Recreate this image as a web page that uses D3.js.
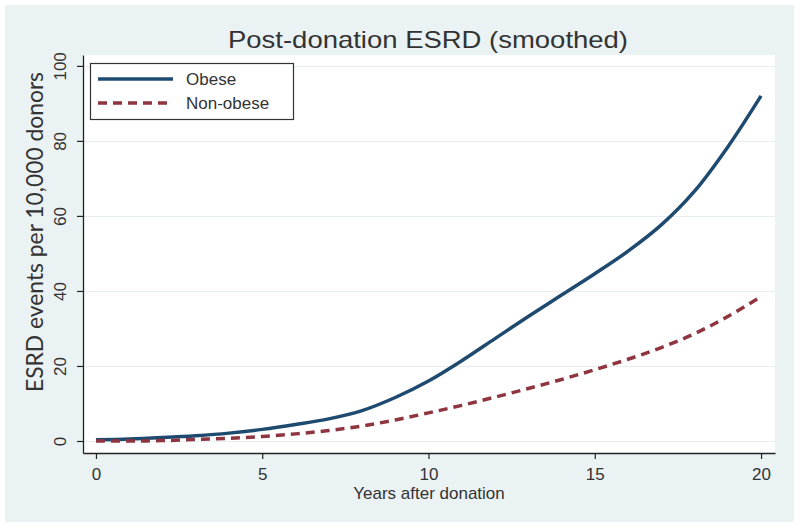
<!DOCTYPE html>
<html><head><meta charset="utf-8">
<script src="https://cdn.jsdelivr.net/npm/d3@7"></script>
<style>body{margin:0;background:#fff}svg{display:block}</style>
</head><body><svg id="c" width="800" height="528"></svg>
<script>
const years = [0,1,2,3,4,5,6,7,8,9,10,11,12,13,14,15,16,17,18,19,20];
const obese = [0.3,0.5,0.9,1.4,2.1,3.1,4.4,5.9,8.1,11.6,16.0,21.4,27.3,33.2,38.9,44.6,50.6,57.6,66.6,78.4,92.0];
const nonObese = [0.0,0.0,0.1,0.4,0.7,1.2,1.9,2.8,4.0,5.6,7.5,9.5,11.7,14.0,16.4,19.0,21.8,24.9,28.6,33.2,38.5];
const seriesNames = ["Obese","Non-obese"];
const seriesColors = ["#1f4a70","#8e3540"];
const xTicks = [0,5,10,15,20];
const yTicks = [0,20,40,60,80,100];
const titleText = "Post-donation ESRD (smoothed)";
const xTitle = "Years after donation";
const yTitle = "ESRD events per 10,000 donors";

const svg = d3.select("#c");
// outer graph region
svg.append("rect").attr("x",5).attr("y",5).attr("width",789).attr("height",517).attr("fill","#eaf2f3");

const x = d3.scaleLinear().domain([-0.39,20.42]).range([83,775]);
const y = d3.scaleLinear().domain([-3.2,102.9]).range([453,55]);

// plot region
svg.append("rect").attr("x",83).attr("y",55).attr("width",692).attr("height",398).attr("fill","#ffffff");

// gridlines
svg.append("g").selectAll("line").data(yTicks).join("line")
  .attr("x1",83).attr("x2",775)
  .attr("y1",d=>Math.round(y(d))+0.5).attr("y2",d=>Math.round(y(d))+0.5)
  .attr("stroke","#e6eef0").attr("stroke-width",1);

// lines
const line = d3.line().x(d=>x(d[0])).y(d=>y(d[1])).curve(d3.curveCatmullRom.alpha(0.5));
const series = [obese, nonObese];
series.forEach((vals,i)=>{
  svg.append("path")
    .datum(years.map((yr,j)=>[yr,vals[j]]))
    .attr("d",line)
    .attr("fill","none")
    .attr("stroke",seriesColors[i])
    .attr("stroke-width",3.5)
    .attr("stroke-dasharray", i===1 ? "9,6" : null);
});

// axes
const xAxis = svg.append("g").attr("transform","translate(0,453)")
  .call(d3.axisBottom(x).tickValues(xTicks).tickSize(6).tickSizeOuter(0));
xAxis.selectAll("text").attr("y",27).attr("dy",0)
  .attr("font-family","Liberation Sans, Arial, sans-serif").attr("font-size",17).attr("fill","#333");
xAxis.select(".domain").attr("stroke","#222").attr("stroke-width",1.3);
xAxis.selectAll(".tick line").attr("stroke","#222").attr("stroke-width",1.2);

const yAxis = svg.append("g").attr("transform","translate(83,0)")
  .call(d3.axisLeft(y).tickValues(yTicks).tickSize(6).tickSizeOuter(0));
yAxis.selectAll("text").attr("x",0).attr("dy",0)
  .attr("transform","translate(-17,0) rotate(-90)")
  .attr("text-anchor","middle")
  .attr("font-family","Liberation Sans, Arial, sans-serif").attr("font-size",17).attr("fill","#333");
yAxis.select(".domain").attr("stroke","#222").attr("stroke-width",1.3);
yAxis.selectAll(".tick line").attr("stroke","#222").attr("stroke-width",1.2);

// titles
svg.append("text").attr("x",428).attr("y",48).attr("text-anchor","middle")
  .attr("font-family","Liberation Sans, Arial, sans-serif").attr("font-size",24)
  .attr("textLength",400).attr("lengthAdjust","spacingAndGlyphs")
  .attr("fill","#333").text(titleText);
svg.append("text").attr("x",429).attr("y",499).attr("text-anchor","middle")
  .attr("font-family","Liberation Sans, Arial, sans-serif").attr("font-size",17)
  .attr("fill","#333").text(xTitle);
svg.append("text").attr("transform","translate(43,232) rotate(-90)").attr("text-anchor","middle")
  .attr("font-family","Lato, Open Sans, sans-serif").attr("font-size",23)
  .attr("textLength",320).attr("lengthAdjust","spacingAndGlyphs")
  .attr("fill","#333").text(yTitle);

// legend
const lg = svg.append("g");
lg.append("rect").attr("x",90.5).attr("y",63.5).attr("width",203).attr("height",56)
  .attr("fill","#fff").attr("stroke","#333").attr("stroke-width",1.2);
seriesNames.forEach((n,i)=>{
  const ly = 79 + i*24;
  lg.append("line").attr("x1",98).attr("x2",173).attr("y1",ly).attr("y2",ly)
    .attr("stroke",seriesColors[i]).attr("stroke-width",3.5)
    .attr("stroke-dasharray", i===1 ? "9,6" : null);
  lg.append("text").attr("x",186).attr("y",ly+6)
    .attr("font-family","Liberation Sans, Arial, sans-serif").attr("font-size",17)
    .attr("fill","#333").text(n);
});
</script>
</body></html>
